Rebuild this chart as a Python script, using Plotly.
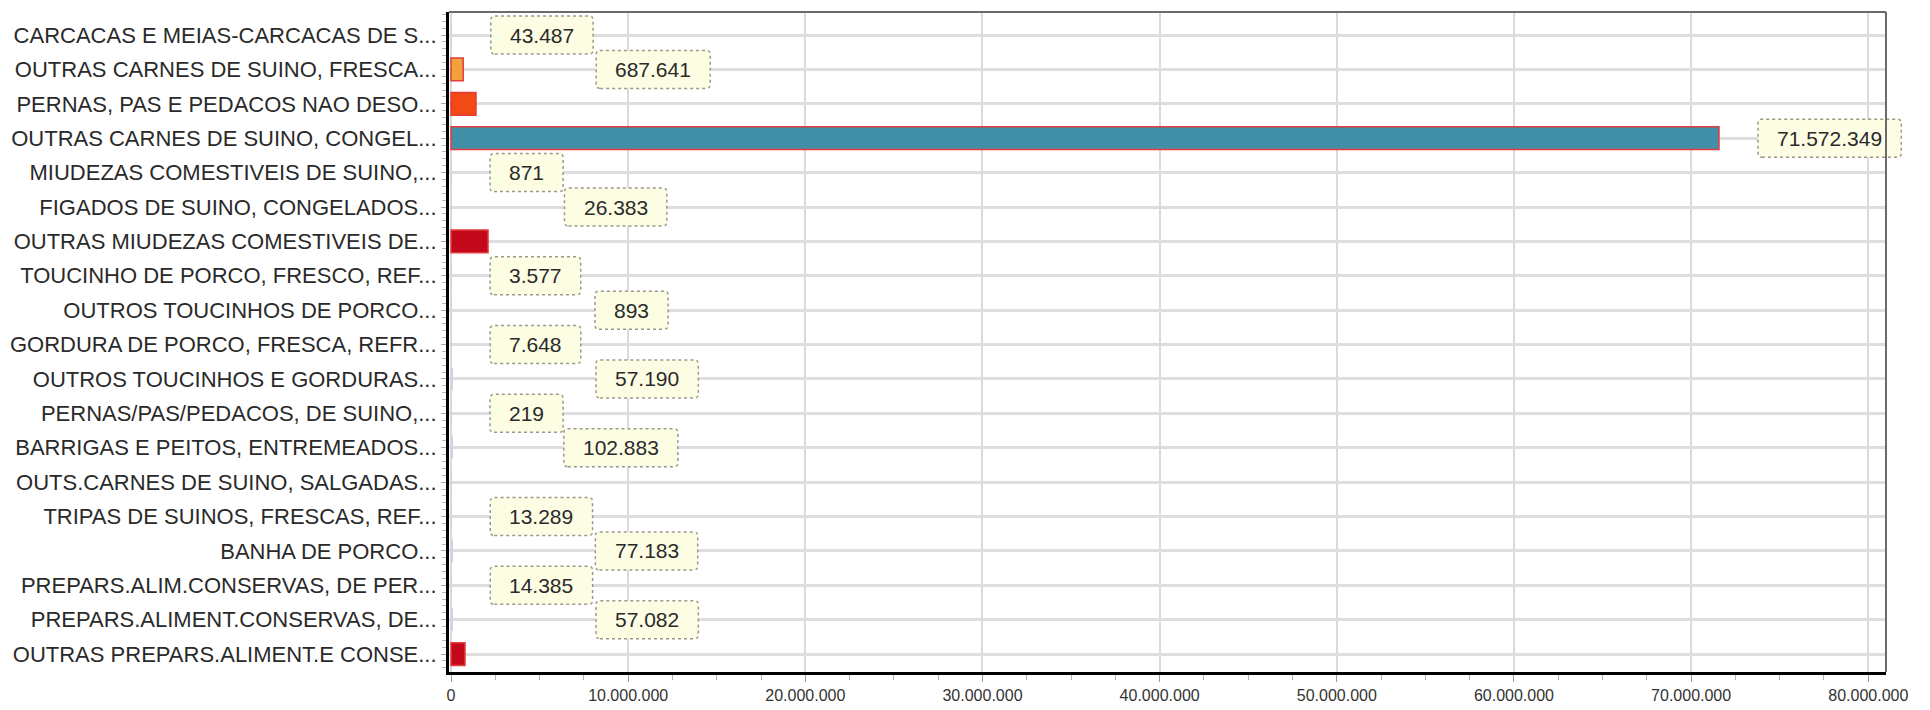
import plotly.graph_objects as go

categories = [
    "CARCACAS E MEIAS-CARCACAS DE S...",
    "OUTRAS CARNES DE SUINO, FRESCA...",
    "PERNAS, PAS E PEDACOS NAO DESO...",
    "OUTRAS CARNES DE SUINO, CONGEL...",
    "MIUDEZAS COMESTIVEIS DE SUINO,...",
    "FIGADOS DE SUINO, CONGELADOS...",
    "OUTRAS MIUDEZAS COMESTIVEIS DE...",
    "TOUCINHO DE PORCO, FRESCO, REF...",
    "OUTROS TOUCINHOS DE PORCO...",
    "GORDURA DE PORCO, FRESCA, REFR...",
    "OUTROS TOUCINHOS E GORDURAS...",
    "PERNAS/PAS/PEDACOS, DE SUINO,...",
    "BARRIGAS E PEITOS, ENTREMEADOS...",
    "OUTS.CARNES DE SUINO, SALGADAS...",
    "TRIPAS DE SUINOS, FRESCAS, REF...",
    "BANHA DE PORCO...",
    "PREPARS.ALIM.CONSERVAS, DE PER...",
    "PREPARS.ALIMENT.CONSERVAS, DE...",
    "OUTRAS PREPARS.ALIMENT.E CONSE...",
]
values = [43487, 687641, 1410000, 71572349, 871, 26383, 2090000, 3577, 893, 7648,
          57190, 219, 102883, 30000, 13289, 77183, 14385, 57082, 790000]
show_label = [True, True, False, True, True, True, False, True, True, True,
              True, True, True, False, True, True, True, True, False]
# pixel offset of each value box from the end of its bar (staggered layout)
label_offset = [39, 133, 0, 39, 39, 113, 0, 39, 144, 39,
                144, 39, 111, 0, 39, 143, 39, 144, 0]
bar_colors = ["#c9d4e4", "#f2a23a", "#f24a14", "#4290a8", "#c9d4e4", "#c9d4e4",
              "#c4081c", "#c9d4e4", "#c9d4e4", "#c9d4e4", "#c9d4e4", "#c9d4e4",
              "#c9d4e4", "#c9d4e4", "#c9d4e4", "#c9d4e4", "#c9d4e4", "#c9d4e4",
              "#c4081c"]
x_tickvals = [0, 10e6, 20e6, 30e6, 40e6, 50e6, 60e6, 70e6, 80e6]

XR = [-0.113e6, 81.0e6]
YR = [18.52, -0.67]

def fmt(v):
    return f"{v:,}".replace(",", ".")

ypos = list(range(len(categories)))
# border only on bars large enough to be seen
bar_line_w = [1.5 if v > 300000 else 0 for v in values]

fig = go.Figure()
fig.add_trace(go.Bar(
    x=values, y=ypos, orientation="h", width=0.66,
    marker=dict(color=bar_colors, line=dict(color="#e23c3c", width=bar_line_w)),
    hoverinfo="skip",
))

shapes = []
annotations = []
for i, (v, show, off) in enumerate(zip(values, show_label, label_offset)):
    if not show:
        continue
    txt = fmt(v)
    nd = sum(c.isdigit() for c in txt)
    ndot = txt.count(".")
    w = 11.7 * nd + 5.84 * ndot + 38
    h = 38
    r = 4
    x0, x1 = off, off + w
    y0, y1 = -h / 2, h / 2
    path = (f"M {x0+r},{y0} L {x1-r},{y0} Q {x1},{y0} {x1},{y0+r} "
            f"L {x1},{y1-r} Q {x1},{y1} {x1-r},{y1} L {x0+r},{y1} "
            f"Q {x0},{y1} {x0},{y1-r} L {x0},{y0+r} Q {x0},{y0} {x0+r},{y0} Z")
    xp = (v - XR[0]) / (XR[1] - XR[0])
    yp = (YR[0] - i) / (YR[0] - YR[1])
    shapes.append(dict(
        type="path", path=path, xref="paper", yref="paper",
        xsizemode="pixel", ysizemode="pixel", xanchor=xp, yanchor=yp,
        fillcolor="#fdfde4", line=dict(color="#9a9a8a", width=1.5, dash="dot"),
        layer="above",
    ))
    annotations.append(dict(
        x=v, y=i, xref="x", yref="y", text=txt, showarrow=False,
        xanchor="center", yanchor="middle", xshift=off + w / 2,
        font=dict(family="Arial, Liberation Sans", size=21, color="#2a2a2a"),
    ))

# frame: grey top/right borders
shapes.append(dict(type="line", xref="paper", yref="paper", x0=0, x1=1, y0=1, y1=1,
                   line=dict(color="#6a6a6a", width=2), layer="above"))
shapes.append(dict(type="line", xref="paper", yref="paper", x0=1, x1=1, y0=0, y1=1,
                   line=dict(color="#6a6a6a", width=2), layer="above"))

fig.update_layout(
    width=1914, height=702,
    margin=dict(l=441, r=36, t=4, b=38, autoexpand=False),
    paper_bgcolor="white", plot_bgcolor="white",
    separators=",.",
    showlegend=False,
    shapes=shapes,
    annotations=annotations,
    xaxis=dict(
        automargin=False,
        range=XR, tickmode="array", tickvals=x_tickvals, tickformat=",d",
        showgrid=True, gridcolor="#dadada", gridwidth=2,
        zeroline=False, showline=True, linecolor="black", linewidth=3,
        ticks="outside", ticklen=7, tickcolor="#9a9a9a", tickwidth=1,
        minor=dict(tickmode="linear", tick0=0, dtick=2.5e6, ticks="outside",
                   ticklen=5, tickcolor="#b0b0b0", showgrid=False),
        tickfont=dict(family="Arial, Liberation Sans", size=16, color="#333333"),
    ),
    yaxis=dict(
        automargin=False,
        range=YR, tickmode="array", tickvals=ypos, ticktext=categories,
        showgrid=True, gridcolor="#dedede", gridwidth=3,
        zeroline=False, showline=True, linecolor="black", linewidth=3,
        ticks="outside", ticklen=5, tickcolor="#aaaaaa", tickwidth=1,
        ticklabelstandoff=0,
        minor=dict(tickmode="linear", tick0=0, dtick=0.2, ticks="outside",
                   ticklen=4, tickcolor="#b8b8b8", showgrid=False),
        tickfont=dict(family="Arial, Liberation Sans", size=22, color="#2a2a2a"),
    ),
)

fig.write_html("out.html")
